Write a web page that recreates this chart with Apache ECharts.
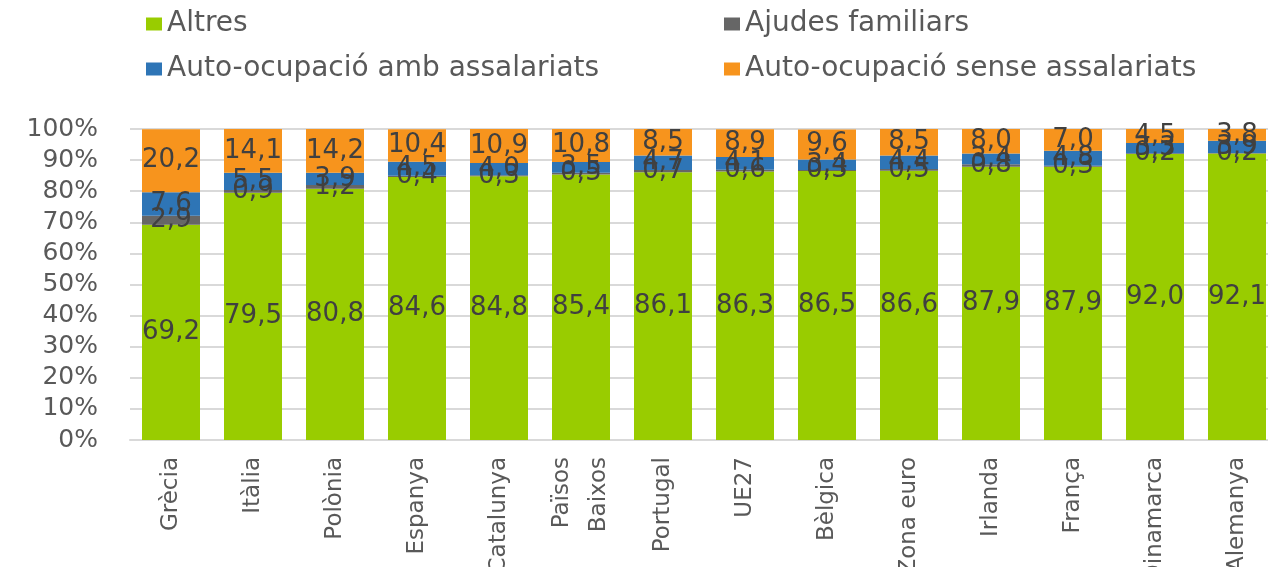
<!DOCTYPE html>
<html>
<head>
<meta charset="utf-8">
<script src="https://cdn.jsdelivr.net/npm/echarts@6/dist/echarts.min.js"></script>
<style>html,body{margin:0;padding:0;background:#fff}#c{width:1268px;height:567px}</style>
</head>
<body>
<div id="c"></div>
<script>
const categories = ['Grècia','Itàlia','Polònia','Espanya','Catalunya','Països\nBaixos','Portugal','UE27','Bèlgica','Zona euro','Irlanda','França','Dinamarca','Alemanya'];
const altres = [69.2,79.5,80.8,84.6,84.8,85.4,86.1,86.3,86.5,86.6,87.9,87.9,92.0,92.1];
const ajudesFamiliars = [2.9,0.9,1.2,0.4,0.3,0.5,0.7,0.6,0.3,0.5,0.8,0.3,0.2,0.2];
const autoAmb = [7.6,5.5,3.9,4.5,4.0,3.5,4.7,4.1,3.4,4.4,3.4,4.8,3.3,3.9];
const autoSense = [20.2,14.1,14.2,10.4,10.9,10.8,8.5,8.9,9.6,8.5,8.0,7.0,4.5,3.8];
const yTicks = [0,10,20,30,40,50,60,70,80,90,100];

const FONT = 'DejaVu Sans';
const label = {
  show: true, position: 'inside', color: '#404040', fontFamily: FONT, fontSize: 26,
  formatter: p => p.value.toFixed(1).replace('.', ',')
};
function mk(name, data, color) {
  return { name, type: 'bar', stack: 'total', data, barWidth: 58,
    itemStyle: { color }, label, emphasis: { disabled: true } };
}
const legendText = { color: '#595959', fontFamily: FONT, fontSize: 28 };
const legendBase = { orient: 'horizontal', itemWidth: 16, itemHeight: 13, itemGap: 10,
  textStyle: legendText, icon: 'rect', selectedMode: false };

const chart = echarts.init(document.getElementById('c'));
chart.setOption({
  animation: false,
  legend: [
    Object.assign({ data: ['Altres'], left: 141, top: 5 }, legendBase),
    Object.assign({ data: ['Ajudes familiars'], left: 719, top: 5 }, legendBase),
    Object.assign({ data: ['Auto-ocupació amb assalariats'], left: 141, top: 50 }, legendBase),
    Object.assign({ data: ['Auto-ocupació sense assalariats'], left: 719, top: 50 }, legendBase)
  ],
  grid: { left: 130, right: -10, top: 129, bottom: 127, containLabel: false, outerBoundsMode: 'none' },
  xAxis: {
    type: 'category', data: categories,
    axisLine: { lineStyle: { color: '#d9d9d9', width: 2 } },
    axisTick: { show: false },
    axisLabel: { rotate: 90, margin: 17, color: '#595959', fontFamily: FONT, fontSize: 23, lineHeight: 37, interval: 0 }
  },
  yAxis: {
    type: 'value', min: yTicks[0], max: yTicks[yTicks.length - 1], interval: yTicks[1] - yTicks[0],
    axisLine: { show: false }, axisTick: { show: false },
    splitLine: { lineStyle: { color: '#d9d9d9', width: 2 } },
    axisLabel: { formatter: '{value}%', color: '#595959', fontFamily: FONT, fontSize: 25, margin: 32 }
  },
  series: [
    mk('Altres', altres, '#99CC00'),
    mk('Ajudes familiars', ajudesFamiliars, '#666666'),
    mk('Auto-ocupació amb assalariats', autoAmb, '#2E75B6'),
    mk('Auto-ocupació sense assalariats', autoSense, '#F7941D')
  ]
});
</script>
</body>
</html>
